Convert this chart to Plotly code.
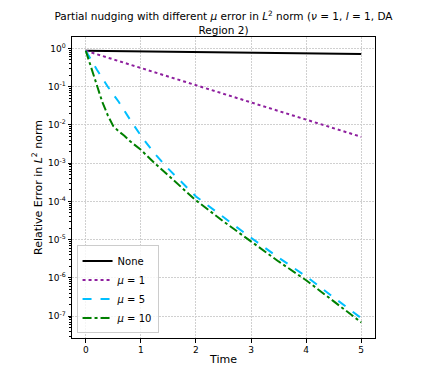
import plotly.graph_objects as go

# time samples and relative L2 errors
t_line = [0, 1, 2, 3, 4, 5]
err_none = [0.87, 0.84, 0.81, 0.78, 0.745, 0.715]
err_mu1 = [0.871, 0.309, 0.110, 0.0389, 0.0138, 0.0049]

t_mu5 = [0, 0.2, 0.4, 0.6, 0.8, 1.0, 1.25, 1.5, 2.0, 2.5, 3.0, 3.5, 4.0, 4.5, 5.0]
err_mu5 = [0.871, 0.282, 0.1, 0.0398, 0.0141, 0.00525, 0.00178, 7.1e-4,
           1.35e-4, 3.8e-5, 1.12e-5, 3.4e-6, 1.1e-6, 3.1e-7, 8.9e-8]

t_mu10 = [0, 0.1, 0.2, 0.3, 0.4, 0.5, 0.6, 0.7, 0.8, 1.0, 1.25, 1.5, 2.0,
          2.5, 3.0, 3.5, 4.0, 4.5, 5.0]
err_mu10 = [0.871, 0.302, 0.1, 0.0398, 0.0178, 0.00933, 0.00676, 0.00525,
            0.0038, 0.00224, 1.0e-3, 4.7e-4, 1.07e-4, 3.0e-5, 8.9e-6,
            2.7e-6, 8.7e-7, 2.4e-7, 6.9e-8]

x_ticks = [0, 1, 2, 3, 4, 5]
y_exps = [0, -1, -2, -3, -4, -5, -6, -7]

FONT = "DejaVu Sans"

fig = go.Figure()
fig.add_trace(go.Scatter(x=t_line, y=err_none, mode="lines", name="None",
                         line=dict(color="black", width=2)))
fig.add_trace(go.Scatter(x=t_line, y=err_mu1, mode="lines", name="<i>μ</i> = 1",
                         line=dict(color="#8e1f9e", width=2, dash="dot")))
fig.add_trace(go.Scatter(x=t_mu5, y=err_mu5, mode="lines", name="<i>μ</i> = 5",
                         line=dict(color="#00bfff", width=2, dash="dash")))
fig.add_trace(go.Scatter(x=t_mu10, y=err_mu10, mode="lines", name="<i>μ</i> = 10",
                         line=dict(color="green", width=2, dash="dashdot")))

minor_vals = [m * 10.0 ** e for e in range(-8, 1) for m in range(2, 10)]

axis_common = dict(
    showline=True, linecolor="black", linewidth=1, mirror=True,
    ticks="outside", ticklen=3.5, tickcolor="black", automargin=False,
    showgrid=True, gridcolor="#d0d0d0", griddash="2px,1px", gridwidth=1,
    zeroline=False, tickfont=dict(size=9, color="black", family=FONT),
)

# the page body adds an 8px margin, so the figure is sized to what stays visible
fig.update_layout(
    width=440, height=379,
    margin=dict(l=64, r=73, t=29, b=49),
    paper_bgcolor="white", plot_bgcolor="white",
    font=dict(family=FONT, color="black"),
    title=dict(
        text="Partial nudging with different <i>μ</i> error in <i>L</i><sup>2</sup> norm "
             "(<i>ν</i> = 1, <i>l</i> = 1, DA<br>Region 2)",
        x=0.5, xref="paper", xanchor="center", y=0.968, yanchor="top",
        font=dict(size=10.5, family=FONT),
    ),
    xaxis=dict(axis_common, range=[-0.25, 5.25], tickvals=x_ticks,
               title=dict(text="Time", font=dict(size=11), standoff=1)),
    yaxis=dict(axis_common, type="log", range=[-7.57, 0.30],
               tickvals=[10.0 ** e for e in y_exps],
               ticktext=["10<sup>%d</sup>" % e for e in y_exps],
               minor=dict(tickvals=minor_vals, ticks="outside", ticklen=2,
                          tickcolor="black", showgrid=False),
               title=dict(text="Relative Error in <i>L</i><sup>2</sup> norm",
                          font=dict(size=11), standoff=3)),
    legend=dict(x=0.015, y=0.015, xanchor="left", yanchor="bottom",
                bgcolor="rgba(255,255,255,0.8)", bordercolor="#cccccc",
                borderwidth=1, font=dict(size=10, family=FONT),
                tracegroupgap=0, itemwidth=30),
    showlegend=True,
)

fig.write_html("out.html")
